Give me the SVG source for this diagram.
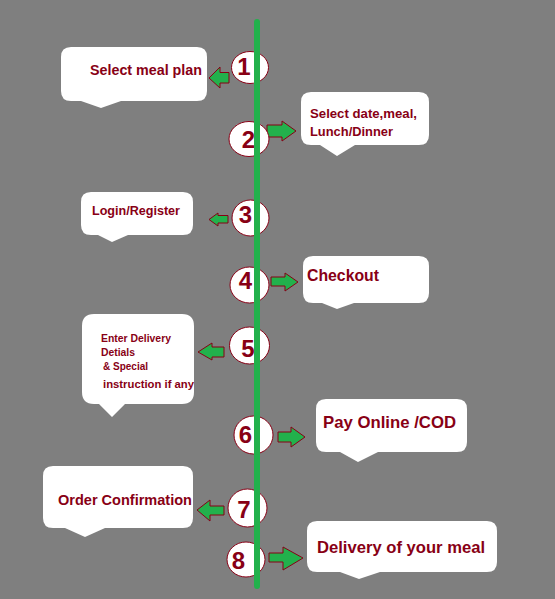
<svg xmlns="http://www.w3.org/2000/svg" width="555" height="599" viewBox="0 0 555 599">
<style>
.bub{fill:#ffffff;stroke:none}
.t{font-family:"Liberation Sans",Arial,sans-serif;font-weight:bold;fill:#880015}
.num{font-family:"Liberation Sans",Arial,sans-serif;font-weight:bold;fill:#880015;font-size:24px}
.step{fill:#ffffff;stroke:#880015;stroke-width:1}
.arr{fill:#22b14c;stroke:#880015;stroke-width:1;stroke-linejoin:miter}
.line{stroke:#22b14c;stroke-width:6;stroke-linecap:round;fill:none}
</style>
<rect width="555" height="599" fill="#7f7f7f"/>

<g id="bubble-1">
<path class="bub" d="M71,47 H197 Q207,47 207,57 V91 Q207,101 197,101 H121 L101,108 L81,101 H71 Q61,101 61,91 V57 Q61,47 71,47 Z"/>
<text class="t" x="90" y="75" font-size="14" textLength="112" lengthAdjust="spacingAndGlyphs">Select meal plan</text>
</g>
<g id="bubble-2">
<path class="bub" d="M311,92 H419 Q429,92 429,102 V135 Q429,145 419,145 H355 L337,156 L320,145 H311 Q301,145 301,135 V102 Q301,92 311,92 Z"/>
<text class="t" x="310" y="118" font-size="13" textLength="107" lengthAdjust="spacingAndGlyphs">Select date,meal,</text>
<text class="t" x="310" y="135.5" font-size="13" textLength="83" lengthAdjust="spacingAndGlyphs">Lunch/Dinner</text>
</g>
<g id="bubble-3">
<path class="bub" d="M91,192 H183 Q193,192 193,202 V225 Q193,235 183,235 H128 L112,242 L98,235 H91 Q81,235 81,225 V202 Q81,192 91,192 Z"/>
<text class="t" x="92" y="214.5" font-size="12" textLength="88" lengthAdjust="spacingAndGlyphs">Login/Register</text>
</g>
<g id="bubble-4">
<path class="bub" d="M313,256 H419 Q429,256 429,266 V293 Q429,303 419,303 H354 L337,309 L322,303 H313 Q303,303 303,293 V266 Q303,256 313,256 Z"/>
<text class="t" x="307" y="281" font-size="16" textLength="72" lengthAdjust="spacingAndGlyphs">Checkout</text>
</g>
<g id="bubble-5">
<path class="bub" d="M94,314 H182 Q194,314 194,326 V392 Q194,404 182,404 H125 L112,417 L99,404 H94 Q82,404 82,392 V326 Q82,314 94,314 Z"/>
<text class="t" x="101" y="342" font-size="11" textLength="70" lengthAdjust="spacingAndGlyphs">Enter Delivery</text>
<text class="t" x="101" y="356" font-size="11" textLength="34" lengthAdjust="spacingAndGlyphs">Detials</text>
<text class="t" x="103" y="370" font-size="11" textLength="45" lengthAdjust="spacingAndGlyphs">&amp; Special</text>
<text class="t" x="103" y="388" font-size="11" textLength="91" lengthAdjust="spacingAndGlyphs">instruction if any</text>
</g>
<g id="bubble-6">
<path class="bub" d="M326,399 H457 Q467,399 467,409 V442 Q467,452 457,452 H378 L358,462 L340,452 H326 Q316,452 316,442 V409 Q316,399 326,399 Z"/>
<text class="t" x="323" y="428" font-size="17" textLength="133" lengthAdjust="spacingAndGlyphs">Pay Online /COD</text>
</g>
<g id="bubble-7">
<path class="bub" d="M53,466 H183 Q193,466 193,476 V518 Q193,528 183,528 H105 L85,537 L65,528 H53 Q43,528 43,518 V476 Q43,466 53,466 Z"/>
<text class="t" x="58" y="505" font-size="14" textLength="134" lengthAdjust="spacingAndGlyphs">Order Confirmation</text>
</g>
<g id="bubble-8">
<path class="bub" d="M317,521 H487 Q497,521 497,531 V562 Q497,572 487,572 H380 L359,579 L340,572 H317 Q307,572 307,562 V531 Q307,521 317,521 Z"/>
<text class="t" x="317" y="553" font-size="16" textLength="168" lengthAdjust="spacingAndGlyphs">Delivery of your meal</text>
</g>

<g id="connectors">
<polygon class="arr" points="209,78 220,67 220,72.5 229,72.5 229,83 220,83 220,88"/>
<polygon class="arr" points="296,131 282,121 282,125 267,125 267,137 282,137 282,141"/>
<polygon class="arr" points="209,219.5 218,213 218,215.5 228,215.5 228,223 218,223 218,226"/>
<polygon class="arr" points="298,282 285,273 285,277 271,277 271,286 285,286 285,291"/>
<polygon class="arr" points="198,352 212,343 212,347 224,347 224,357 212,357 212,360"/>
<polygon class="arr" points="305,437 291,427 291,432 278,432 278,442 291,442 291,447"/>
<polygon class="arr" points="197,510 210,500 210,506 224,506 224,515 210,515 210,521"/>
<polygon class="arr" points="303,558 283,547 283,553 269,553 269,562 283,562 283,570"/>
</g>

<g id="step-1"><ellipse class="step" cx="250" cy="67.5" rx="18.5" ry="16"/><text class="num" x="244" y="75" text-anchor="middle">1</text></g>
<g id="step-2"><ellipse class="step" cx="249" cy="139" rx="20" ry="17.5"/><text class="num" x="248.5" y="148" text-anchor="middle">2</text></g>
<g id="step-3"><ellipse class="step" cx="250.5" cy="218" rx="18.5" ry="18"/><text class="num" x="245.5" y="223" text-anchor="middle">3</text></g>
<g id="step-4"><ellipse class="step" cx="249.5" cy="285" rx="19.5" ry="18"/><text class="num" x="245.5" y="288.5" text-anchor="middle">4</text></g>
<g id="step-5"><ellipse class="step" cx="249.5" cy="345.5" rx="20" ry="18.5"/><text class="num" x="248" y="357" text-anchor="middle">5</text></g>
<g id="step-6"><ellipse class="step" cx="253.5" cy="435" rx="19.5" ry="19"/><text class="num" x="245.5" y="443" text-anchor="middle">6</text></g>
<g id="step-7"><ellipse class="step" cx="247.5" cy="508" rx="19.5" ry="19"/><text class="num" x="244" y="518" text-anchor="middle">7</text></g>
<g id="step-8"><ellipse class="step" cx="246" cy="559.5" rx="19" ry="17.5"/><text class="num" x="238.5" y="569" text-anchor="middle" font-size="27">8</text></g>

<g id="timeline">
<line class="line" x1="257" y1="22" x2="257" y2="586"/>
</g>
</svg>
